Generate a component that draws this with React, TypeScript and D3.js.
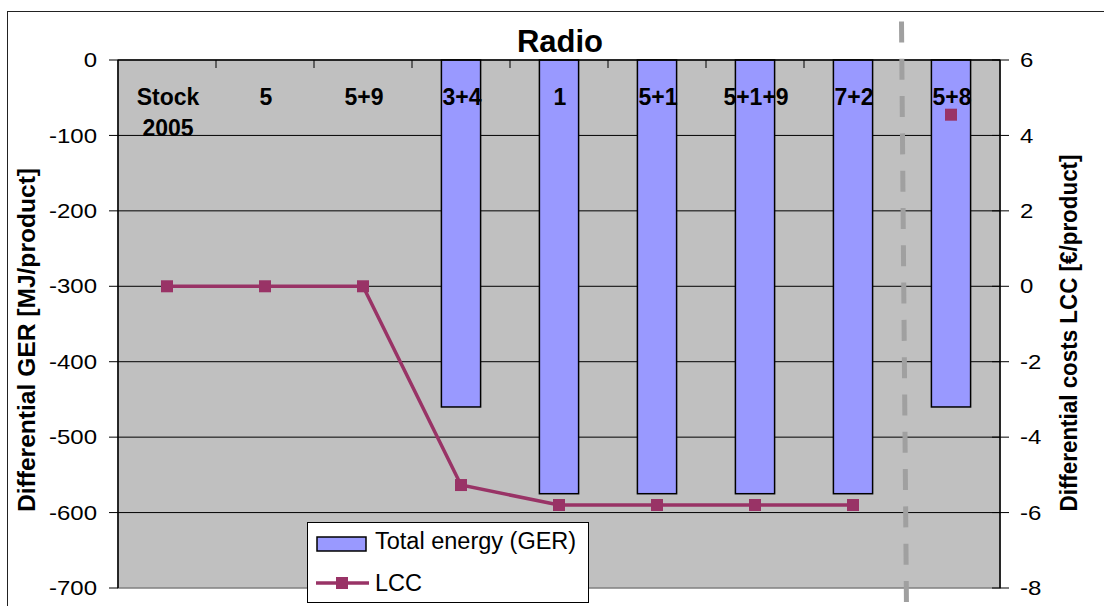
import * as d3 from 'd3';

const categories = ['Stock 2005', '5', '5+9', '3+4', '1', '5+1', '5+1+9', '7+2', '5+8'];
// GER bars, MJ/product (left axis)
const gerValues = [0, 0, 0, -460, -575, -575, -575, -575, -460];
// LCC, €/product (right axis); last point stands alone, no line to it
const lccValues = [0, 0, 0, -5.27, -5.8, -5.8, -5.8, -5.8, 4.55];
const lccJoined = [true, true, true, true, true, true, true, true, false];
const leftTicks = [0, -100, -200, -300, -400, -500, -600, -700];
const rightTicks = [6, 4, 2, 0, -2, -4, -6, -8];

const FONT = '"Liberation Sans", Arial, sans-serif';
const PLOT_BG = '#C0C0C0';
const BAR = '#9999FF';
const LCC = '#993366';

export default function App() {
  const W = 1104;
  const H = 606;
  const plot = { left: 118, right: 1000, top: 60, bottom: 588 };

  const x = d3.scaleBand<string>()
    .domain(categories)
    .range([plot.left, plot.right])
    .paddingInner(0.6)
    .paddingOuter(0.3);
  const step = x.step();
  const yLeft = d3.scaleLinear().domain([-700, 0]).range([plot.bottom, plot.top]);
  const yRight = d3.scaleLinear().domain([-8, 6]).range([plot.bottom, plot.top]);
  const cx = (c: string) => (x(c) || 0) + x.bandwidth() / 2;

  const lccPoints = categories.map((c, i) => ({ c, v: lccValues[i], joined: lccJoined[i] }));
  const line = d3.line<{ c: string; v: number; joined: boolean }>()
    .defined(d => d.joined)
    .x(d => cx(d.c))
    .y(d => yRight(d.v));

  const mk = 12;

  return (
    <svg width={W} height={H} style={{ position: 'absolute', left: 0, top: 0, background: '#fff' }}
      fontFamily={FONT}>
      {/* chart border */}
      <rect x={7.5} y={11.5} width={W + 20} height={H + 20} fill="#fff" stroke="#222" strokeWidth={1} />

      {/* plot area */}
      <rect x={plot.left} y={plot.top} width={plot.right - plot.left} height={plot.bottom - plot.top}
        fill={PLOT_BG} stroke="#808080" strokeWidth={1.5} />

      {/* gridlines */}
      {leftTicks.filter(t => t !== 0 && t !== -700).map(t => (
        <line key={'g' + t} x1={plot.left} x2={plot.right} y1={yLeft(t)} y2={yLeft(t)}
          stroke="#000" strokeWidth={1} />
      ))}

      {/* bars */}
      {categories.map((c, i) => gerValues[i] !== 0 && (
        <rect key={'b' + c} x={x(c)} y={yLeft(0)} width={x.bandwidth()}
          height={yLeft(gerValues[i]) - yLeft(0)} fill={BAR} stroke="#000" strokeWidth={1.5} />
      ))}

      {/* axes */}
      <line x1={plot.left} x2={plot.right} y1={yLeft(0)} y2={yLeft(0)} stroke="#000" strokeWidth={1.5} />
      <line x1={plot.left} x2={plot.left} y1={plot.top} y2={plot.bottom} stroke="#000" strokeWidth={1.5} />
      <line x1={plot.right} x2={plot.right} y1={plot.top} y2={plot.bottom} stroke="#000" strokeWidth={1.5} />
      {categories.slice(1).map(c => (
        <line key={'ct' + c} x1={(x(c) || 0) - step * 0.3} x2={(x(c) || 0) - step * 0.3}
          y1={plot.top} y2={plot.top + 8} stroke="#000" strokeWidth={1} />
      ))}
      {leftTicks.map(t => (
        <g key={'l' + t}>
          <line x1={plot.left - 9} x2={plot.left} y1={yLeft(t)} y2={yLeft(t)} stroke="#000" strokeWidth={1} />
          <text transform={`translate(97,${yLeft(t)}) scale(1.2,1)`} dy="0.36em" textAnchor="end"
            fontSize={20} fill="#000">{t}</text>
        </g>
      ))}
      {rightTicks.map(t => (
        <g key={'r' + t}>
          <line x1={plot.right - 8} x2={plot.right + 9} y1={yRight(t)} y2={yRight(t)} stroke="#000" strokeWidth={1} />
          <text transform={`translate(1020,${yRight(t)}) scale(1.2,1)`} dy="0.36em" textAnchor="start"
            fontSize={20} fill="#000">{t}</text>
        </g>
      ))}

      {/* category labels */}
      {categories.map(c => {
        const parts = c === 'Stock 2005' ? ['Stock', '2005'] : [c];
        return (
          <text key={'cl' + c} x={cx(c) + 1} y={105} textAnchor="middle" fontSize={23}
            fontWeight="bold" fill="#000">
            {parts.map((p, j) => (
              <tspan key={j} x={cx(c) + 1} dy={j === 0 ? 0 : 31}>{p}</tspan>
            ))}
          </text>
        );
      })}

      {/* LCC line + markers */}
      <path d={line(lccPoints) || ''} fill="none" stroke={LCC} strokeWidth={3.5} />
      {lccPoints.map(p => (
        <rect key={'m' + p.c} x={cx(p.c) - mk / 2} y={yRight(p.v) - mk / 2} width={mk} height={mk}
          fill={LCC} />
      ))}

      {/* dashed separator */}
      <line x1={901.5} y1={21.5} x2={906.5} y2={610} stroke="#A0A0A0" strokeWidth={5}
        strokeDasharray="21 16.3" />

      {/* title */}
      <text x={560} y={52} textAnchor="middle" fontSize={31} fontWeight="bold" fill="#000">Radio</text>

      {/* axis titles */}
      <text transform="translate(35,340) rotate(-90)" textAnchor="middle" fontSize={23}
        fontWeight="bold" textLength={344} lengthAdjust="spacingAndGlyphs">Differential GER [MJ/product]</text>
      <text transform="translate(1077,333) rotate(-90)" textAnchor="middle" fontSize={23}
        fontWeight="bold" textLength={357} lengthAdjust="spacingAndGlyphs">Differential costs LCC [€/product]</text>

      {/* legend */}
      <g>
        <rect x={307.5} y={522.5} width={281} height={80} fill="#fff" stroke="#000" strokeWidth={1} />
        <rect x={317} y={537} width={49} height={14} fill={BAR} stroke="#000" strokeWidth={1.5} />
        <text x={375} y={549} fontSize={23.5} fill="#000">Total energy (GER)</text>
        <line x1={316} x2={369} y1={583} y2={583} stroke={LCC} strokeWidth={3.5} />
        <rect x={342 - mk / 2} y={583 - mk / 2} width={mk} height={mk} fill={LCC} />
        <text x={375} y={591} fontSize={23.5} fill="#000">LCC</text>
      </g>
    </svg>
  );
}
